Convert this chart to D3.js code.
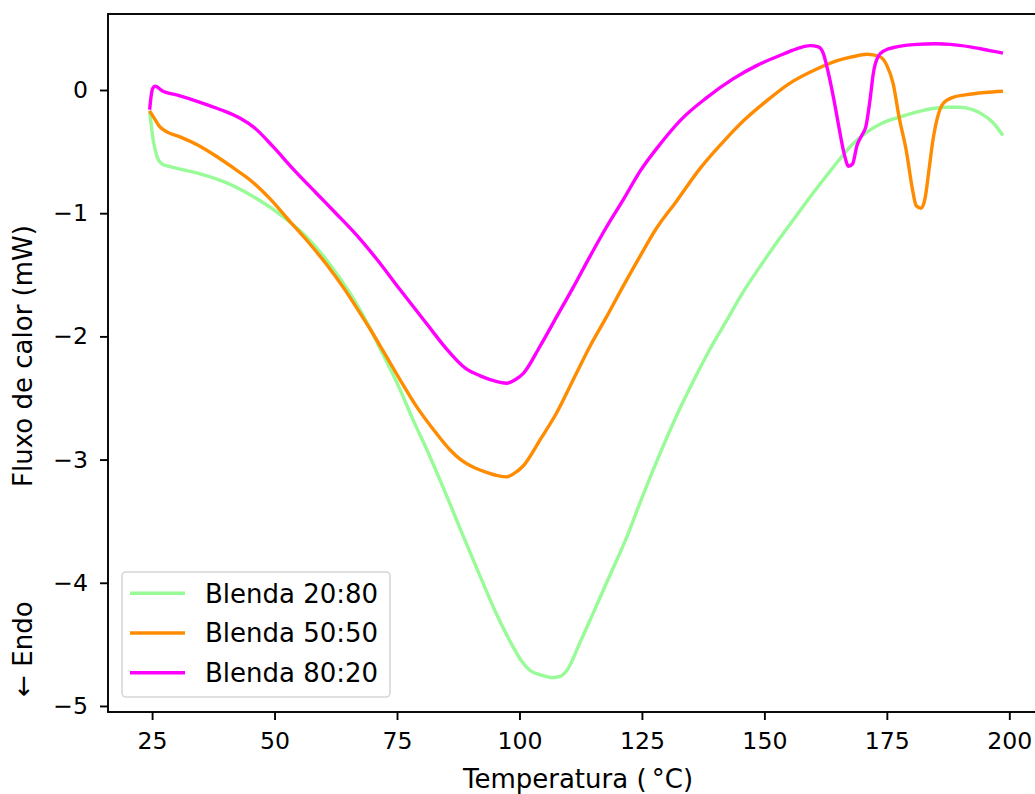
<!DOCTYPE html>
<html>
<head>
<meta charset="utf-8">
<script src="https://cdn.jsdelivr.net/npm/d3@7"></script>
<style>
  body { margin: 0; background: #fff; }
  text { font-family: "DejaVu Sans", sans-serif; }
</style>
</head>
<body>
<div id="chart"></div>
<script>
// Series data (temperature in °C, heat flow in mW)
const tempA = [24.5, 25.2, 26.0, 27.0, 28.5, 31, 34.8, 40, 45, 51.8, 57.2, 61, 65.4, 68.9, 72.2, 75.6, 78.3, 81.1, 85.2, 88.5, 92, 95.5, 98.7, 100.5, 102.1, 104.5, 106.8, 108.3, 109.7, 112.3, 115, 118, 121.9, 125, 128.7, 132, 135.4, 138.8, 142.3, 145.5, 149, 152.3, 155.8, 159.3, 162.8, 165.4, 168, 171, 174, 177.6, 181, 184.4, 187.5, 190, 192.5, 194.6, 196.8, 198.7];
const fluxA = [-0.17, -0.40, -0.54, -0.60, -0.62, -0.645, -0.68, -0.75, -0.85, -1.03, -1.22, -1.40, -1.65, -1.89, -2.15, -2.43, -2.68, -2.92, -3.30, -3.62, -3.95, -4.27, -4.52, -4.64, -4.71, -4.75, -4.77, -4.76, -4.71, -4.49, -4.25, -3.98, -3.63, -3.31, -2.95, -2.65, -2.37, -2.11, -1.87, -1.65, -1.44, -1.25, -1.06, -0.87, -0.69, -0.56, -0.44, -0.34, -0.27, -0.22, -0.18, -0.15, -0.14, -0.14, -0.16, -0.20, -0.27, -0.37];

const tempB = [24.5, 25.3, 26.6, 28, 30.7, 34.5, 38.2, 41.5, 45, 49, 53.2, 57, 60.7, 64, 66.8, 69.5, 72.2, 75.6, 79, 82.5, 85.8, 88, 90.5, 93, 95.5, 97.4, 99, 100.8, 104.2, 107.6, 111, 114.4, 117.8, 121.2, 124.6, 128, 132.1, 136.8, 142.3, 146, 150.4, 155, 160.7, 165, 168, 170.9, 173.6, 175, 176.3, 177.5, 179, 180.2, 181, 182, 182.8, 183.6, 184.4, 185.5, 186.5, 188.5, 191, 195, 198.7];
const fluxB = [-0.17, -0.22, -0.30, -0.34, -0.38, -0.45, -0.54, -0.63, -0.73, -0.88, -1.07, -1.24, -1.42, -1.60, -1.77, -1.94, -2.12, -2.35, -2.57, -2.76, -2.92, -3.00, -3.06, -3.10, -3.13, -3.14, -3.11, -3.05, -2.84, -2.62, -2.35, -2.08, -1.84, -1.59, -1.35, -1.12, -0.90, -0.64, -0.39, -0.24, -0.09, 0.05, 0.17, 0.24, 0.27, 0.29, 0.27, 0.20, 0.05, -0.22, -0.50, -0.80, -0.94, -0.96, -0.88, -0.65, -0.41, -0.20, -0.11, -0.06, -0.04, -0.02, -0.01];

const tempC = [24.5, 24.8, 25.1, 25.6, 27.2, 30, 34.8, 39, 43, 46, 49.7, 54, 58.6, 62.5, 66.8, 71, 75.6, 81.1, 85.5, 89, 92, 94, 97.4, 99.2, 100.8, 104.2, 107.6, 111, 114.4, 117.8, 121.2, 124.6, 128.7, 133, 138.3, 143.6, 148.5, 153.8, 157, 159.3, 161, 162, 163, 164.2, 165.3, 166.3, 167.2, 168, 168.9, 170, 170.7, 171.5, 172.3, 173.2, 174.5, 177, 181, 185, 188, 192, 196, 198.7];
const fluxC = [-0.16, -0.05, 0.01, 0.03, -0.01, -0.04, -0.10, -0.16, -0.23, -0.31, -0.46, -0.65, -0.84, -1.00, -1.18, -1.38, -1.62, -1.90, -2.12, -2.26, -2.32, -2.35, -2.38, -2.35, -2.30, -2.08, -1.84, -1.60, -1.35, -1.11, -0.89, -0.66, -0.44, -0.24, -0.06, 0.09, 0.20, 0.29, 0.34, 0.36, 0.35, 0.30, 0.15, -0.08, -0.32, -0.52, -0.62, -0.60, -0.45, -0.36, -0.30, -0.10, 0.15, 0.27, 0.32, 0.35, 0.37, 0.375, 0.37, 0.35, 0.32, 0.30];

const seriesNames = ["Blenda 20:80", "Blenda 50:50", "Blenda 80:20"];
const seriesColors = ["#98fb98", "#ff8c00", "#ff00ff"];
const xTicks = [25, 50, 75, 100, 125, 150, 175, 200];
const yTicks = [0, -1, -2, -3, -4, -5];

const width = 1035;
const height = 794;
const plot = { left: 108, right: 1048, top: 14, bottom: 712 };
const tickFont = 23.6;
const labelFont = 26;

const svg = d3.select("#chart")
    .append("svg")
    .attr("width", width)
    .attr("height", height);

const x = d3.scaleLinear().domain([16.0, 207.9]).range([plot.left, plot.right]);
const y = d3.scaleLinear().domain([-5.049, 0.617]).range([plot.bottom, plot.top]);

const series = [
    { name: seriesNames[0], color: seriesColors[0], pts: tempA.map((t, i) => [t, fluxA[i]]) },
    { name: seriesNames[1], color: seriesColors[1], pts: tempB.map((t, i) => [t, fluxB[i]]) },
    { name: seriesNames[2], color: seriesColors[2], pts: tempC.map((t, i) => [t, fluxC[i]]) }
];

const line = d3.line()
    .x(d => x(d[0]))
    .y(d => y(d[1]))
    .curve(d3.curveMonotoneX);

// Curves
svg.append("g")
    .selectAll("path")
    .data(series)
    .enter().append("path")
    .attr("d", d => line(d.pts))
    .attr("fill", "none")
    .attr("stroke", d => d.color)
    .attr("stroke-width", 3.4)
    .attr("stroke-linejoin", "round");

// Axes
const xAxis = svg.append("g")
    .attr("transform", `translate(0, ${plot.bottom})`)
    .call(d3.axisBottom(x).tickValues(xTicks).tickSize(8).tickPadding(12).tickSizeOuter(0));
const yAxis = svg.append("g")
    .attr("transform", `translate(${plot.left}, 0)`)
    .call(d3.axisLeft(y).tickValues(yTicks).tickSize(8).tickPadding(12).tickSizeOuter(0).tickFormat(d3.format("d")));

[xAxis, yAxis].forEach(a => {
    a.select(".domain").remove();
    a.selectAll(".tick line").attr("stroke", "#000").attr("stroke-width", 1.9);
    a.selectAll(".tick text")
        .attr("fill", "#000")
        .style("font-size", tickFont + "px")
        .style("font-family", "DejaVu Sans");
});

// Frame (spines)
svg.append("rect")
    .attr("x", plot.left)
    .attr("y", plot.top)
    .attr("width", plot.right - plot.left)
    .attr("height", plot.bottom - plot.top)
    .attr("fill", "none")
    .attr("stroke", "#000")
    .attr("stroke-width", 1.9);

// Axis labels
svg.append("text")
    .attr("x", (plot.left + plot.right) / 2)
    .attr("y", 788)
    .attr("text-anchor", "middle")
    .style("font-size", labelFont + "px")
    .text("Temperatura (\u2009°C)");

svg.append("text")
    .attr("transform", "translate(32, 356) rotate(-90)")
    .attr("text-anchor", "middle")
    .style("font-size", labelFont + "px")
    .text("Fluxo de calor (mW)");

svg.append("text")
    .attr("transform", "translate(32, 649) rotate(-90)")
    .attr("text-anchor", "middle")
    .style("font-size", labelFont + "px")
    .text("← Endo");

// Legend
const legendBox = { x: 122, y: 572, w: 268, h: 125 };
const legend = svg.append("g");
legend.append("rect")
    .attr("x", legendBox.x)
    .attr("y", legendBox.y)
    .attr("width", legendBox.w)
    .attr("height", legendBox.h)
    .attr("rx", 4)
    .attr("fill", "rgba(255,255,255,0.8)")
    .attr("stroke", "#d6d6d6")
    .attr("stroke-width", 1.6);

const item = legend.selectAll("g.item")
    .data(series)
    .enter().append("g")
    .attr("class", "item")
    .attr("transform", (d, i) => `translate(0, ${593.3 + i * 39.7})`);

item.append("line")
    .attr("x1", 130).attr("x2", 185)
    .attr("stroke", d => d.color)
    .attr("stroke-width", 3.4);

item.append("text")
    .attr("x", 205)
    .attr("dy", "0.36em")
    .style("font-size", labelFont + "px")
    .attr("fill", "#000")
    .text(d => d.name);
</script>
</body>
</html>
